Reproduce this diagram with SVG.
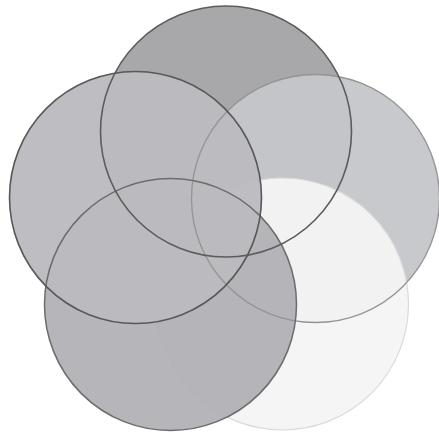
<svg xmlns="http://www.w3.org/2000/svg" width="439" height="433" viewBox="0 0 439 433">
  <style>
    .f-top { fill: #a8a8aa; }
    .f-right { fill: #c4c6c9; fill-opacity: 0.95; }
    .f-white { fill: #f4f4f4; fill-opacity: 0.95; stroke: #dadada; stroke-width: 1.2; }
    .f-bl { fill: #adadb2; fill-opacity: 0.9; }
    .f-left { fill: #bbbbbf; fill-opacity: 0.96; }
    .ring { fill: none; }
    .r-top { stroke: #5c5c5c; stroke-width: 1.6; }
    .r-left { stroke: #585858; stroke-width: 1.6; }
    .r-bl { stroke: #6c6c6c; stroke-width: 1.5; }
    .r-right { stroke: #949494; stroke-width: 1.3; }
  </style>
  <rect width="439" height="433" fill="#ffffff"/>
  <g id="circle-top">
    <circle class="f-top" cx="226" cy="131.5" r="125.5"/>
  </g>
  <g id="circle-right">
    <circle class="f-right" cx="315.5" cy="198.5" r="124"/>
  </g>
  <g id="circle-bottom-right">
    <circle class="f-white" cx="282.5" cy="304" r="126"/>
  </g>
  <g id="circle-bottom-left">
    <circle class="f-bl" cx="170.5" cy="304.5" r="126"/>
  </g>
  <g id="circle-left">
    <circle class="f-left" cx="135.5" cy="197.5" r="126"/>
  </g>
  <g id="outlines">
    <circle class="ring r-right" cx="315.5" cy="198.5" r="124"/>
    <circle class="ring r-bl" cx="170.5" cy="304.5" r="126"/>
    <circle class="ring r-left" cx="135.5" cy="197.5" r="126"/>
    <circle class="ring r-top" cx="226" cy="131.5" r="125.5"/>
  </g>
</svg>
